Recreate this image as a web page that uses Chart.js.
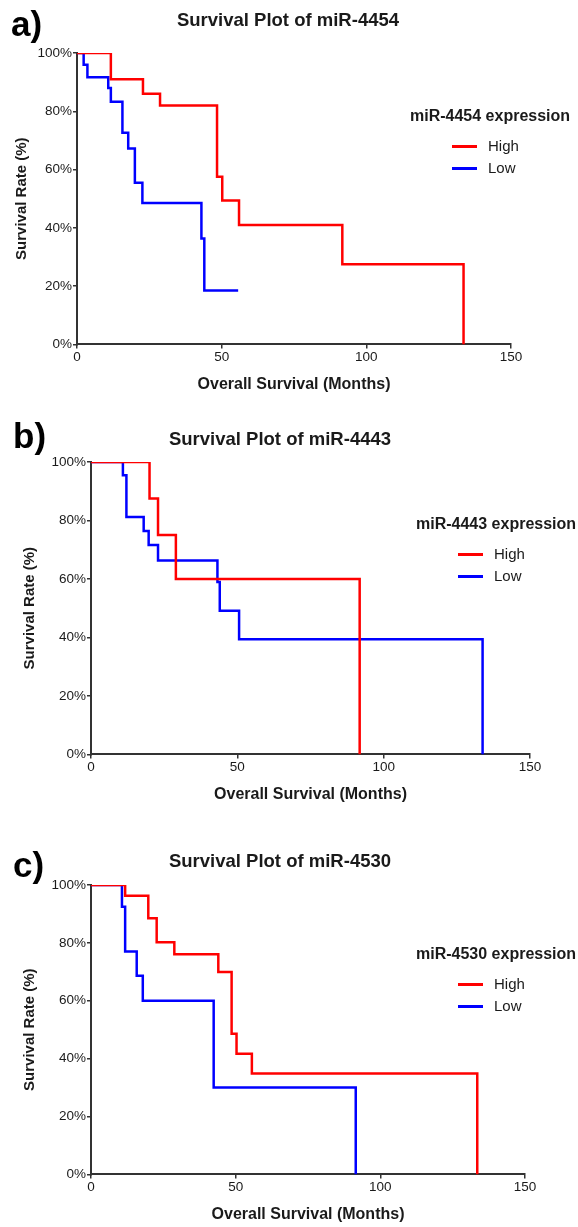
<!DOCTYPE html>
<html>
<head>
<meta charset="utf-8">
<script src="https://cdn.jsdelivr.net/npm/chart.js@4/dist/chart.umd.min.js"></script>
<style>
  body { margin: 0; background: #fff; width: 578px; height: 1227px; position: relative; overflow: hidden; font-family: 'Liberation Sans', Arial, sans-serif; color: #1a1a1a; }
  .panel { position: absolute; left: 0; }
  .letter { position: absolute; font-weight: bold; font-size: 35px; line-height: 35px; color: #000; }
  .legend { position: absolute; font-size: 15px; }
  .legend .head { position: absolute; white-space: nowrap; font-weight: bold; font-size: 16px; }
  .legend .item { position: absolute; white-space: nowrap; }
  .legend .swatch { position: absolute; width: 25px; height: 3px; }
</style>
</head>
<body>
<canvas id="chartA" class="panel" width="578" height="394" style="top:0px"></canvas>
<canvas id="chartB" class="panel" width="578" height="404" style="top:400px"></canvas>
<canvas id="chartC" class="panel" width="578" height="409" style="top:815px"></canvas>

<div class="letter" style="left:11px; top:6px">a)</div>
<div class="letter" style="left:13px; top:418px">b)</div>
<div class="letter" style="left:13px; top:847px">c)</div>

<div id="legendA" class="legend"></div>
<div id="legendB" class="legend"></div>
<div id="legendC" class="legend"></div>

<script>
// tick labels shared by all three plots
const monthTicks = [0, 50, 100, 150];
const rateTicks = [0, 20, 40, 60, 80, 100];
const groupNames = ['High', 'Low'];

// a) miR-4454
const highMonthsA = [0, 11.7, 22.8, 28.7, 48.4, 50.2, 56, 91.7, 133.6];
const highRateA   = [100, 91, 86, 82, 57.5, 49.4, 41, 27.5, 0];
const lowMonthsA  = [0, 2.3, 3.6, 10.8, 11.7, 15.7, 17.7, 20, 22.6, 43, 44, 55.7];
const lowRateA    = [100, 96, 91.7, 88, 83.3, 72.6, 67.2, 55.5, 48.5, 36.3, 18.5, 18.5];

// b) miR-4443
const highMonthsB = [0, 20, 22.9, 29, 91.8];
const highRateB   = [100, 87.5, 75, 60, 0];
const lowMonthsB  = [0, 10.9, 12.1, 18, 19.7, 22.9, 43.2, 44, 50.6, 133.8];
const lowRateB    = [100, 95.5, 81.2, 76.4, 71.6, 66.3, 59, 49.1, 39.4, 0];

// c) miR-4530
const highMonthsC = [0, 11.8, 19.8, 22.7, 28.8, 44, 48.6, 50.3, 55.6, 133.5];
const highRateC   = [100, 96.3, 88.5, 80.2, 76.1, 69.9, 48.6, 41.7, 34.9, 0];
const lowMonthsC  = [0, 10.7, 11.8, 15.8, 17.9, 42.4, 91.5];
const lowRateC    = [100, 92.5, 77, 68.6, 60, 30, 0];

const lineColors = ['#ff0000', '#0000ff'];
const textColor = '#1a1a1a';
const axisColor = '#333333';
const fontFamily = "'Liberation Sans', Arial, sans-serif";

// zip two arrays into {x, y} points for a line dataset
function toPoints(months, rates) {
    var pts = [];
    for (var k = 0; k < months.length; k++) {
        pts.push({x: months[k], y: rates[k]});
    }
    return pts;
}

function buildSurvivalChart(canvasId, cfg) {
    const datasets = cfg.series.map((s, i) => ({
        label: groupNames[i],
        data: toPoints(s[0], s[1]),
        xAxisID: 'x',
        yAxisID: 'y',
        borderColor: lineColors[i],
        borderWidth: 2.5,
        stepped: 'before',
        pointRadius: 0,
        tension: 0,
        fill: false
    }));
    return new Chart(document.getElementById(canvasId), {
        type: 'line',
        data: {datasets: datasets},
        options: {
            responsive: false,
            animation: false,
            devicePixelRatio: 1,
            layout: {padding: {left: 0, right: cfg.padRight, top: 0, bottom: 0}},
            plugins: {
                legend: {display: false},
                tooltip: {enabled: false},
                title: {
                    display: true,
                    text: cfg.title,
                    color: textColor,
                    font: {family: fontFamily, size: 18.5, weight: 'bold'},
                    padding: {top: cfg.titleTop, bottom: cfg.titleBottom}
                }
            },
            scales: {
                x: {
                    type: 'linear',
                    min: 0,
                    max: 150,
                    afterBuildTicks: (scale) => { scale.ticks = monthTicks.map(v => ({value: v})); },
                    grid: {display: true, drawOnChartArea: false, drawTicks: true, tickLength: 4, color: axisColor, lineWidth: 1.5},
                    border: {display: true, color: axisColor, width: 2},
                    ticks: {color: textColor, padding: 1, font: {family: fontFamily, size: 13.5}},
                    title: {
                        display: true,
                        text: 'Overall Survival (Months)',
                        color: textColor,
                        padding: {top: 8.2, bottom: 0},
                        font: {family: fontFamily, size: 16, weight: 'bold'}
                    }
                },
                y: {
                    min: 0,
                    max: 100,
                    afterBuildTicks: (scale) => { scale.ticks = rateTicks.map(v => ({value: v})); },
                    afterFit: (scale) => { scale.width = cfg.axisWidth; },
                    grid: {display: true, drawOnChartArea: false, drawTicks: true, tickLength: 4, color: axisColor, lineWidth: 1.5},
                    border: {display: true, color: axisColor, width: 2},
                    ticks: {
                        color: textColor,
                        padding: 1,
                        font: {family: fontFamily, size: 13.5},
                        callback: (v) => v + '%'
                    },
                    title: {
                        display: true,
                        text: 'Survival Rate (%)',
                        color: textColor,
                        padding: {top: cfg.yTitlePad, bottom: 0},
                        font: {family: fontFamily, size: 15, weight: 'bold'}
                    }
                },
                // empty box on the right so the title centres like the original
                spacer: {
                    type: 'linear',
                    axis: 'y',
                    position: 'right',
                    display: true,
                    ticks: {display: false},
                    grid: {display: false},
                    border: {display: false},
                    afterFit: (scale) => { scale.width = cfg.spacer; }
                }
            }
        }
    });
}

// legend drawn as html so it can sit half over the plot like the original
function buildLegend(id, gene, left, top) {
    var box = document.getElementById(id);
    box.style.left = left + 'px';
    box.style.top = top + 'px';
    var html = '<div class="head" style="left:0px; top:0px">' + gene + ' expression</div>';
    for (var k = 0; k < groupNames.length; k++) {
        var y = 30 + k * 22;
        html += '<div class="swatch" style="left:' + 42 + 'px; top:' + (y + 8) + 'px; background:' + lineColors[k] + '"></div>';
        html += '<div class="item" style="left:' + 78 + 'px; top:' + y + 'px">' + groupNames[k] + '</div>';
    }
    box.innerHTML = html;
}

buildSurvivalChart('chartA', {
    title: 'Survival Plot of miR-4454',
    series: [[highMonthsA, highRateA], [lowMonthsA, lowRateA]],
    titleTop: 10, titleBottom: 20.8, axisWidth: 77, padRight: 2, spacer: 65, yTitlePad: 13
});
buildSurvivalChart('chartB', {
    title: 'Survival Plot of miR-4443',
    series: [[highMonthsB, highRateB], [lowMonthsB, lowRateB]],
    titleTop: 29, titleBottom: 10.8, axisWidth: 91, padRight: 18, spacer: 30, yTitlePad: 21
});
buildSurvivalChart('chartC', {
    title: 'Survival Plot of miR-4530',
    series: [[highMonthsC, highRateC], [lowMonthsC, lowRateC]],
    titleTop: 36, titleBottom: 11.8, axisWidth: 91, padRight: 18, spacer: 35, yTitlePad: 21
});

buildLegend('legendA', 'miR-4454', 410, 107);
buildLegend('legendB', 'miR-4443', 416, 515);
buildLegend('legendC', 'miR-4530', 416, 945);
</script>
</body>
</html>
